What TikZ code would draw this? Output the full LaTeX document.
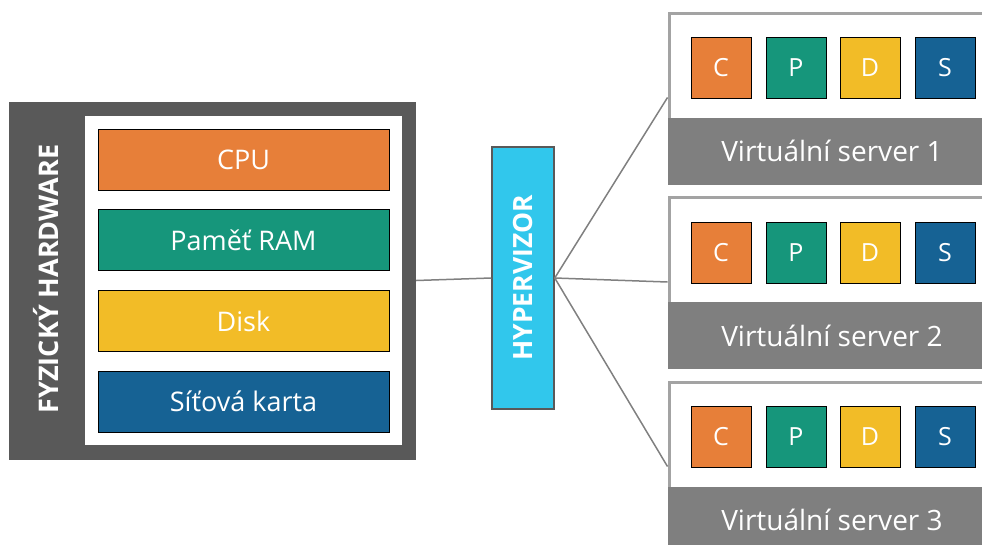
\documentclass[tikz,border=0pt]{standalone}
\usepackage{fontspec}
\setmainfont{Open Sans}
\usetikzlibrary{positioning}

\definecolor{hwgray}{HTML}{595959}
\definecolor{srvgray}{HTML}{7F7F7F}
\definecolor{srvframe}{HTML}{A3A3A3}
\definecolor{linkgray}{HTML}{808080}
\definecolor{cpucol}{HTML}{E77F39}
\definecolor{ramcol}{HTML}{16967B}
\definecolor{diskcol}{HTML}{F2BC27}
\definecolor{netcol}{HTML}{166294}
\definecolor{hypcol}{HTML}{31C7EC}

\tikzset{
    part/.style={draw=black, line width=1pt, text=white, minimum width=291pt,
        minimum height=61pt, inner sep=0pt, font=\fontsize{27}{30}\selectfont},
    chip/.style={draw=black, line width=1pt, text=white, minimum width=60pt,
        minimum height=61pt, inner sep=0pt, font=\fontsize{25}{28}\selectfont},
    server/.style={draw=srvframe, line width=3pt, fill=white, minimum width=326pt,
        minimum height=169pt, inner sep=0pt},
    band/.style={fill=srvgray, text=white, minimum width=329pt, minimum height=67pt,
        inner sep=0pt, font=\fontsize{28}{30}\selectfont},
    link/.style={draw=linkgray, line width=1.5pt}
}

\begin{document}
\begin{tikzpicture}[x=1pt, y=-1pt]
    \useasboundingbox (0,0) rectangle (982,544);

    % physical hardware
    \node[fill=hwgray, minimum width=407pt, minimum height=358pt, inner sep=0pt] (hw) at (212.5,280.5) {};
    \node[fill=white, minimum width=317pt, minimum height=329pt, inner sep=0pt] (hwin) at (243.5,280.5) {};
    \node[rotate=90, text=white, font=\bfseries\fontsize{27}{30}\selectfont] (hwlabel) at (46,279) {FYZICKÝ HARDWARE};

    \node[part, fill=cpucol] (cpu) at (243.5,159.5) {CPU};
    \node[part, fill=ramcol] (ram) at (243.5,240) {Paměť RAM};
    \node[part, fill=diskcol] (disk) at (243.5,321) {Disk};
    \node[part, fill=netcol] (net) at (243.5,401.5) {Síťová karta};

    % hypervisor
    \node[draw=hwgray, line width=1.5pt, fill=hypcol, minimum width=62pt, minimum height=262pt, inner sep=0pt] (hyp) at (523,278) {};
    \node[rotate=90, text=white, font=\bfseries\fontsize{26.5}{30}\selectfont] (hyplabel) at (hyp.center) {HYPERVIZOR};

    \draw[link] (hw.east) -- (hyp.west);

    % virtual servers
    \foreach \i/\y in {1/97.5, 2/282, 3/466.5} {
        \node[server] (srv\i) at (832,\y) {};
        \node[band, anchor=south] (lbl\i) at ([yshift=-1.5pt]srv\i.south) {Virtuální server \i};
        \foreach \l/\c/\x in {C/cpucol/721, P/ramcol/796, D/diskcol/870, S/netcol/945}
            \node[chip, fill=\c] (\l\i) at (\x,\y-29.5) {\l};
        \draw[link] (hyp.east) -- (srv\i.west);
    }
\end{tikzpicture}
\end{document}
